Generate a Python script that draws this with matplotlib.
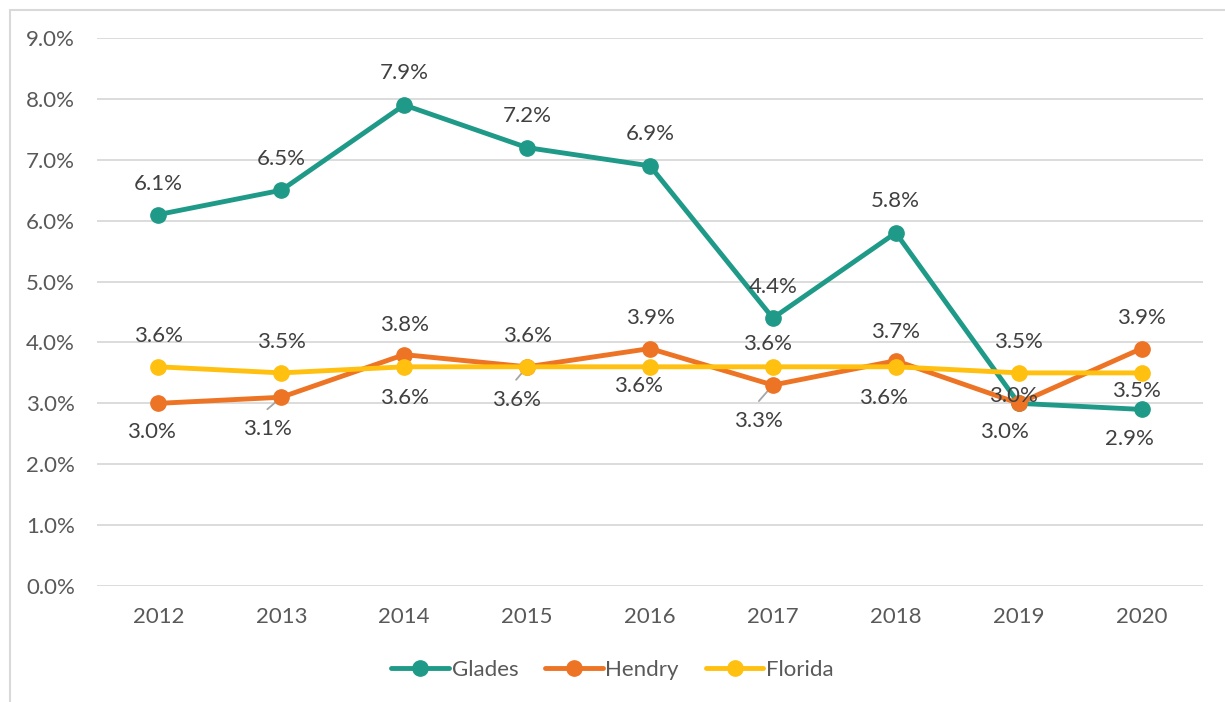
import matplotlib.pyplot as plt
from matplotlib.patches import Rectangle
from matplotlib.ticker import PercentFormatter

# data
years = ['2012', '2013', '2014', '2015', '2016', '2017', '2018', '2019', '2020']
glades = [6.1, 6.5, 7.9, 7.2, 6.9, 4.4, 5.8, 3.0, 2.9]
hendry = [3.0, 3.1, 3.8, 3.6, 3.9, 3.3, 3.7, 3.0, 3.9]
florida = [3.6, 3.5, 3.6, 3.6, 3.6, 3.6, 3.6, 3.5, 3.5]

# label offsets in pixels (dx, dy with y pointing down), and which labels get leader lines
glades_off = [(0, -31), (0, -31), (0, -32), (0, -32), (0, -32), (0, -31), (0, -32), (-5, -7), (-12, 30)]
hendry_off = [(-7, 29), (-14, 32), (0, -30), (0, -31), (0, -31), (-14, 36), (0, -29), (-14, 29), (0, -31)]
florida_off = [(0, -31), (0, -31), (0, 31), (-11, 33), (-11, 19), (-5, -23), (-12, 31), (0, -31), (-5, 18)]
hendry_lead = [1, 5]
florida_lead = [3]

plt.rcParams['font.family'] = ['Lato', 'DejaVu Sans']
FS = 16

fig = plt.figure(figsize=(12.25, 7.02), dpi=100)
fig.patches.append(Rectangle((10 / 1225, -0.01), 1.1, (702 - 10) / 702 + 0.01,
                             transform=fig.transFigure, fill=False,
                             edgecolor='#D9D9D9', linewidth=1.5))
ax = fig.add_axes([97 / 1225, (702 - 586) / 702, (1203 - 97) / 1225, (586 - 38) / 702])

x = range(len(years))
series = [
    ('Glades', glades, '#1F9A88', glades_off, []),
    ('Hendry', hendry, '#ED7325', hendry_off, hendry_lead),
    ('Florida', florida, '#FFC010', florida_off, florida_lead),
]
for name, vals, color, offs, leads in series:
    ax.plot(x, vals, color=color, linewidth=3.5, marker='o', markersize=11,
            label=name, solid_capstyle='round', zorder=3)
    for i, v in enumerate(vals):
        dx, dy = offs[i]
        ax.annotate(f'{v:.1f}%', (i, v), xytext=(dx * 0.72, -dy * 0.72),
                    textcoords='offset points', ha='center', va='center',
                    fontsize=FS, color='#404040', zorder=4)
        if i in leads:
            ax.annotate('', (i, v), xytext=(dx * 0.72, -(dy - 20) * 0.72),
                        textcoords='offset points',
                        arrowprops=dict(arrowstyle='-', color='#A6A6A6', lw=1.3,
                                        shrinkA=0, shrinkB=2), zorder=2)

ax.set_xlim(-0.5, len(years) - 0.5)
ax.set_ylim(0, 9)
ax.set_yticks(range(0, 10))
ax.yaxis.set_major_formatter(PercentFormatter(decimals=1))
ax.set_xticks(list(x))
ax.set_xticklabels(years)
ax.grid(axis='y', color='#D9D9D9', linewidth=1.3)
ax.set_axisbelow(True)
for s in ax.spines.values():
    s.set_visible(False)
ax.tick_params(length=0, labelsize=FS, labelcolor='#595959')
ax.tick_params(axis='x', pad=15)
ax.tick_params(axis='y', pad=16)

leg = fig.legend(loc='center', bbox_to_anchor=(0.5, (702 - 670) / 702), ncol=3,
                 frameon=False, fontsize=FS, handlelength=2.6, handletextpad=0.12,
                 columnspacing=1.2)
for t in leg.get_texts():
    t.set_color('#595959')

fig.savefig('out.png', dpi=100)
